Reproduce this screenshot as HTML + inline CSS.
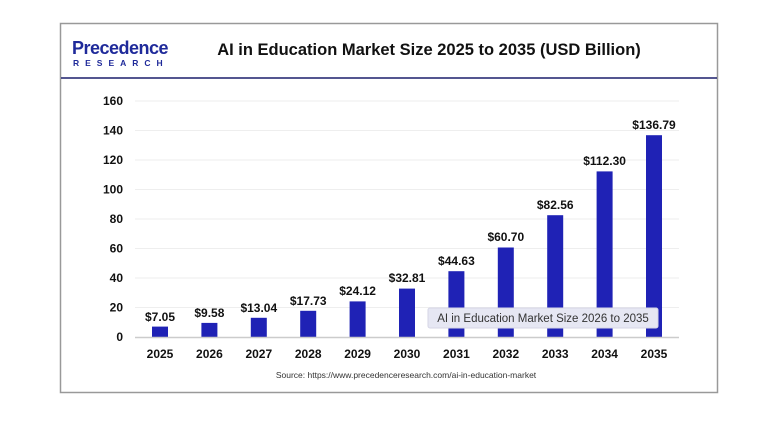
<!DOCTYPE html>
<html><head><meta charset="utf-8"><style>
html,body{margin:0;padding:0;background:#fff;}
svg{display:block;font-family:"Liberation Sans",Arial,sans-serif;}
</style></head><body>
<svg width="777" height="421" viewBox="0 0 777 421" xmlns="http://www.w3.org/2000/svg">
<rect x="60.5" y="23.5" width="657" height="369" fill="#fff" stroke="#999" stroke-width="1.5"/>
<line x1="61" y1="78" x2="717" y2="78" stroke="#1c1f6b" stroke-width="1.5"/>
<text x="72" y="54" font-size="18" fill="#1f2a9a" font-weight="bold" letter-spacing="-0.5">Precedence</text>
<text x="73" y="66" font-size="8.5" fill="#1f2a9a" font-weight="bold" letter-spacing="6">RESEARCH</text>
<text x="429" y="55" font-size="16.5" font-weight="bold" fill="#111" text-anchor="middle">AI in Education Market Size 2025 to 2035 (USD Billion)</text>
<g stroke="#eee" stroke-width="1">
<line x1="135" y1="101" x2="679" y2="101"/><line x1="135" y1="130.5" x2="679" y2="130.5"/>
<line x1="135" y1="160" x2="679" y2="160"/><line x1="135" y1="189.5" x2="679" y2="189.5"/>
<line x1="135" y1="219" x2="679" y2="219"/><line x1="135" y1="248.5" x2="679" y2="248.5"/>
<line x1="135" y1="278" x2="679" y2="278"/><line x1="135" y1="307.5" x2="679" y2="307.5"/>
</g>
<g font-size="12" font-weight="bold" fill="#111" text-anchor="end">
<text x="123" y="105">160</text><text x="123" y="134.5">140</text><text x="123" y="164">120</text>
<text x="123" y="193.5">100</text><text x="123" y="223">80</text><text x="123" y="252.5">60</text>
<text x="123" y="282">40</text><text x="123" y="311.5">20</text><text x="123" y="341">0</text>
</g>
<g fill="#1f22b5">
<rect x="152" y="326.6" width="16" height="10.4"/>
<rect x="201.4" y="322.9" width="16" height="14.1"/>
<rect x="250.8" y="317.8" width="16" height="19.2"/>
<rect x="300.2" y="310.8" width="16" height="26.2"/>
<rect x="349.6" y="301.4" width="16" height="35.6"/>
<rect x="399" y="288.6" width="16" height="48.4"/>
<rect x="448.4" y="271.2" width="16" height="65.8"/>
<rect x="497.8" y="247.5" width="16" height="89.5"/>
<rect x="547.2" y="215.2" width="16" height="121.8"/>
<rect x="596.6" y="171.4" width="16" height="165.6"/>
<rect x="646" y="135.2" width="16" height="201.8"/>
</g>
<line x1="135" y1="337.5" x2="679" y2="337.5" stroke="#ccc" stroke-width="1.5"/>
<g font-size="12" font-weight="bold" fill="#111" text-anchor="middle">
<text x="160" y="321">$7.05</text><text x="209.4" y="317">$9.58</text><text x="258.8" y="312">$13.04</text>
<text x="308.2" y="305">$17.73</text><text x="357.6" y="295">$24.12</text><text x="407" y="282">$32.81</text>
<text x="456.4" y="265">$44.63</text><text x="505.8" y="241">$60.70</text><text x="555.2" y="209">$82.56</text>
<text x="604.6" y="165">$112.30</text><text x="654" y="129">$136.79</text>
</g>
<g font-size="12" font-weight="bold" fill="#111" text-anchor="middle">
<text x="160" y="358">2025</text><text x="209.4" y="358">2026</text><text x="258.8" y="358">2027</text>
<text x="308.2" y="358">2028</text><text x="357.6" y="358">2029</text><text x="407" y="358">2030</text>
<text x="456.4" y="358">2031</text><text x="505.8" y="358">2032</text><text x="555.2" y="358">2033</text>
<text x="604.6" y="358">2034</text><text x="654" y="358">2035</text>
</g>
<text x="406" y="378" font-size="8.5" fill="#333" text-anchor="middle">Source: https://www.precedenceresearch.com/ai-in-education-market</text>
<rect x="428" y="308" width="230" height="20" rx="2" fill="#e6e7f3" stroke="#d5d6e6"/>
<text x="543" y="322" font-size="11.5" fill="#333" text-anchor="middle">AI in Education Market Size 2026 to 2035</text>
</svg>
</body></html>
